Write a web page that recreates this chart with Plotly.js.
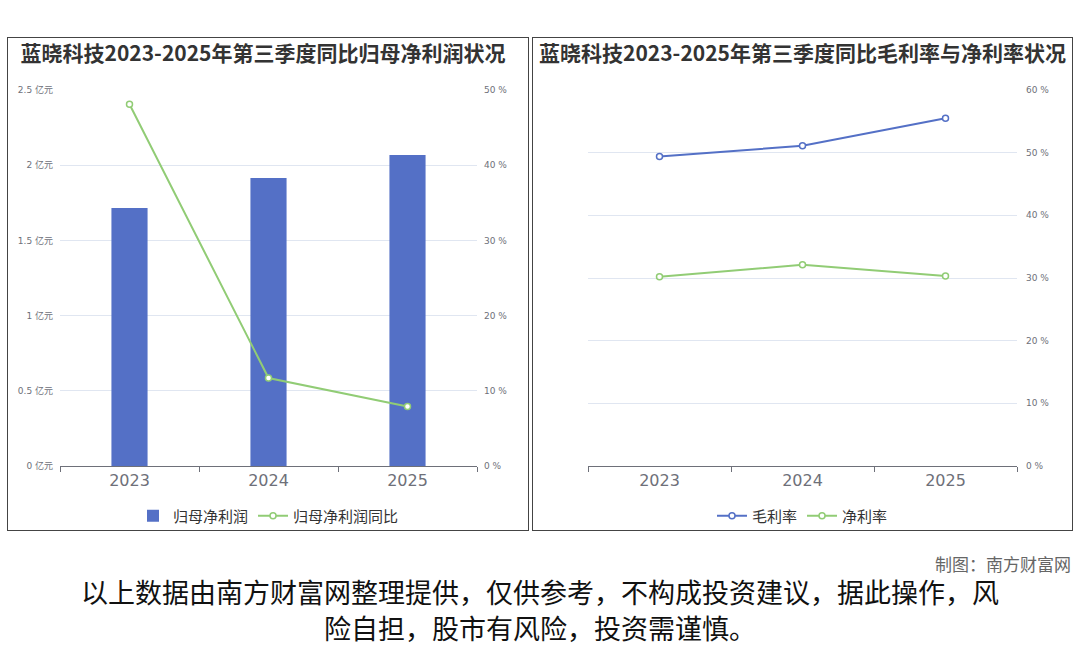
<!DOCTYPE html>
<html>
<head>
<meta charset="utf-8">
<script src="https://cdn.plot.ly/plotly-3.0.1.min.js"></script>
<style>
  html, body { margin:0; padding:0; background:#fff; }
  body { width:1080px; height:646px; position:relative; overflow:hidden; }
  #bg { position:absolute; left:0; top:0; width:1080px; height:646px; }
  .panel { position:absolute; border:1px solid #444; box-sizing:border-box; overflow:hidden; background:#fff; }
  #left { left:7px; top:37px; width:522px; height:494px; }
  #right { left:532px; top:37px; width:541px; height:494px; }
</style>
</head>
<body>
<div id="bg"></div>
<div id="left" class="panel"><div id="leftChart"></div></div>
<div id="right" class="panel"><div id="rightChart"></div></div>
<script>
// ---- data ----
const years = ['2023', '2024', '2025'];
const netProfit = [1.715, 1.915, 2.068];          // 亿元
const netProfitYoY = [48.1, 11.7, 7.9];          // %
const grossMargin = [49.4, 51.1, 55.5];          // %
const netMargin = [30.2, 32.1, 30.3];            // %

const leftTickVals = [0, 0.5, 1, 1.5, 2, 2.5];
const leftTickText = ['0 亿元', '0.5 亿元', '1 亿元', '1.5 亿元', '2 亿元', '2.5 亿元'];
const yoyTickVals = [0, 10, 20, 30, 40, 50];
const yoyTickText = ['0 %', '10 %', '20 %', '30 %', '40 %', '50 %'];
const rateTickVals = [0, 10, 20, 30, 40, 50, 60];
const rateTickText = ['0 %', '10 %', '20 %', '30 %', '40 %', '50 %', '60 %'];

const leftTitle = '蓝晓科技2023-2025年第三季度同比归母净利润状况';
const rightTitle = '蓝晓科技2023-2025年第三季度同比毛利率与净利率状况';
const credit = '制图：南方财富网';
const disclaimerLine1 = '以上数据由南方财富网整理提供，仅供参考，不构成投资建议，据此操作，风';
const disclaimerLine2 = '险自担，股市有风险，投资需谨慎。';

const BLUE = '#5470c6', GREEN = '#91cc75', AXIS = '#6e7079', GRID = '#E0E6F1';
const FONT = 'DejaVu Sans, Noto Sans CJK SC, sans-serif';
const CJK = 'Noto Sans CJK SC, sans-serif';
const cfg = {displayModeBar:false, staticPlot:true};

// ---- background (footer) ----
Plotly.newPlot('bg', [], {
  width:1080, height:646, margin:{l:0,r:0,t:0,b:0, autoexpand:false},
  paper_bgcolor:'#fff', plot_bgcolor:'#fff',
  xaxis:{visible:false, range:[0,1]}, yaxis:{visible:false, range:[0,1]},
  annotations:[
    {text:credit, xref:'paper', yref:'paper', x:1072/1080, y:1-563/646, xanchor:'right', yanchor:'middle',
     showarrow:false, borderpad:0, font:{family:CJK, size:17, color:'#666'}},
    {text:disclaimerLine1, xref:'paper', yref:'paper', x:0.5, y:1-591/646, xanchor:'center', yanchor:'middle',
     showarrow:false, borderpad:0, font:{family:CJK, size:27, color:'#111'}},
    {text:disclaimerLine2, xref:'paper', yref:'paper', x:0.5, y:1-627/646, xanchor:'center', yanchor:'middle',
     showarrow:false, borderpad:0, font:{family:CJK, size:27, color:'#111'}}
  ]
}, cfg);

function xAxis() {
  return {
    type:'category', range:[-0.5, 2.5], showline:true, linecolor:AXIS, linewidth:1,
    ticks:'outside', tickson:'boundaries', ticklen:5, tickcolor:AXIS,
    tickfont:{family:FONT, size:16, color:AXIS}, showgrid:false, zeroline:false, fixedrange:true
  };
}

// ---- left chart ----
const lw = 520, lh = 492;
Plotly.newPlot('leftChart', [
  {type:'bar', name:'归母净利润', x:years, y:netProfit, marker:{color:BLUE}, yaxis:'y'},
  {type:'scatter', mode:'lines+markers', name:'归母净利润同比', x:years, y:netProfitYoY, yaxis:'y2',
   line:{color:GREEN, width:2}, marker:{symbol:'circle', size:6, color:'#fff', line:{color:GREEN, width:1.5}}}
], {
  width:lw, height:lh, margin:{l:52, r:lw-469, t:52, b:lh-428, autoexpand:false},
  paper_bgcolor:'#fff', plot_bgcolor:'rgba(0,0,0,0)',
  bargap:0.74, showlegend:true,
  title:{text:leftTitle, x:255/lw, xanchor:'center', xref:'container', y:1-16/lh, yanchor:'middle', yref:'container',
         font:{family:CJK, size:21, color:'#333', weight:'bold'}},
  xaxis:xAxis(),
  yaxis:{range:[0,2.5], tickvals:leftTickVals, ticktext:leftTickText, showgrid:true, gridcolor:GRID,
         zeroline:false, showline:false, ticks:'', ticklabelstandoff:6,
         tickfont:{family:FONT, size:9, color:AXIS}, fixedrange:true},
  yaxis2:{range:[0,50], overlaying:'y', side:'right', tickvals:yoyTickVals, ticktext:yoyTickText,
          showgrid:false, zeroline:false, showline:false, ticks:'', ticklabelstandoff:6,
          tickfont:{family:FONT, size:9, color:AXIS}, fixedrange:true},
  legend:{orientation:'h', x:0.5, xanchor:'center', y:(428-478)/376, yanchor:'middle',
          font:{family:CJK, size:15, color:'#333'}, bgcolor:'rgba(0,0,0,0)'}
}, cfg);

// ---- right chart ----
const rw = 539, rh = 492;
Plotly.newPlot('rightChart', [
  {type:'scatter', mode:'lines+markers', name:'毛利率', x:years, y:grossMargin,
   line:{color:BLUE, width:2}, marker:{symbol:'circle', size:6, color:'#fff', line:{color:BLUE, width:1.5}}},
  {type:'scatter', mode:'lines+markers', name:'净利率', x:years, y:netMargin,
   line:{color:GREEN, width:2}, marker:{symbol:'circle', size:6, color:'#fff', line:{color:GREEN, width:1.5}}}
], {
  width:rw, height:rh, margin:{l:55, r:rw-484, t:52, b:rh-428, autoexpand:false},
  paper_bgcolor:'#fff', plot_bgcolor:'rgba(0,0,0,0)', showlegend:true,
  title:{text:rightTitle, x:0.5, xanchor:'center', xref:'container', y:1-16/rh, yanchor:'middle', yref:'container',
         font:{family:CJK, size:21, color:'#333', weight:'bold'}},
  xaxis:xAxis(),
  yaxis:{range:[0,60], side:'right', tickvals:rateTickVals, ticktext:rateTickText, showgrid:true, gridcolor:GRID,
         zeroline:false, showline:false, ticks:'', ticklabelstandoff:8,
         tickfont:{family:FONT, size:9, color:AXIS}, fixedrange:true},
  legend:{orientation:'h', x:0.5, xanchor:'center', y:(428-478)/376, yanchor:'middle',
          font:{family:CJK, size:15, color:'#333'}, bgcolor:'rgba(0,0,0,0)'}
}, cfg);
</script>
</body>
</html>
